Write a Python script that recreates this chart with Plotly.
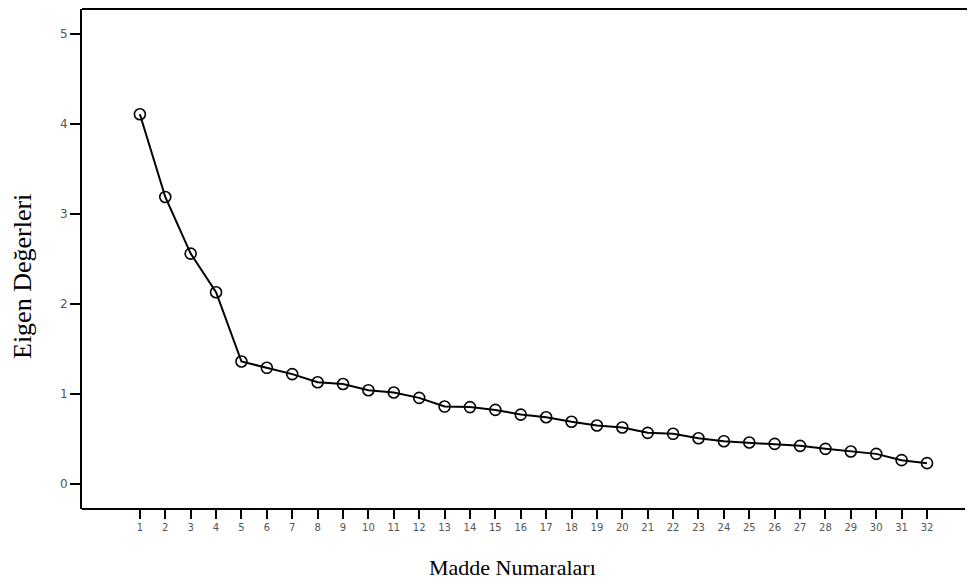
import plotly.graph_objects as go

items = list(range(1, 33))
eigen_values = [4.11, 3.19, 2.56, 2.13, 1.36, 1.29, 1.22, 1.13, 1.11, 1.04,
                1.015, 0.956, 0.859, 0.853, 0.822, 0.77, 0.74, 0.69, 0.648, 0.626,
                0.567, 0.556, 0.507, 0.474, 0.459, 0.444, 0.422, 0.389, 0.359, 0.333,
                0.263, 0.23]
y_ticks = [0, 1, 2, 3, 4, 5]
x_title = "Madde Numaraları"
y_title = "Eigen Değerleri"

fig = go.Figure()
fig.add_trace(go.Scatter(
    x=items, y=eigen_values, mode="lines+markers",
    line=dict(color="black", width=2),
    marker=dict(symbol="circle-open", size=11, color="black", line=dict(width=1.6)),
    showlegend=False, cliponaxis=False,
))

fig.update_layout(
    width=967, height=576,
    margin=dict(l=74, r=0, t=1, b=75),
    paper_bgcolor="white", plot_bgcolor="white",
    xaxis=dict(
        range=[-1.28, 33.89], tickvals=items, ticktext=[str(i) for i in items],
        showgrid=False, zeroline=False, showline=False,
        ticks="outside", ticklen=9, tickwidth=2, tickcolor="black",
        tickfont=dict(family="DejaVu Sans", size=10, color="#555"),
    ),
    yaxis=dict(
        range=[-0.28, 5.28], tickvals=y_ticks,
        showgrid=False, zeroline=False, showline=True, linecolor="black", linewidth=2,
        ticks="outside", ticklen=10, tickwidth=2, tickcolor="black",
        tickfont=dict(family="DejaVu Sans", size=12, color="#555"),
    ),
    shapes=[
        dict(type="line", xref="paper", yref="paper", x0=0, x1=0.9888, y0=0, y1=0,
             line=dict(color="black", width=2)),
        dict(type="line", xref="paper", yref="paper", x0=0, x1=1, y0=1, y1=1,
             line=dict(color="black", width=2)),
    ],
    annotations=[
        dict(text=x_title, xref="paper", yref="paper", x=(512 - 82) / 893, y=-(568 - 509) / 500,
             showarrow=False, xanchor="center", yanchor="middle",
             font=dict(family="Liberation Serif", size=22, color="black")),
        dict(text=y_title, xref="paper", yref="paper", x=-(82 - 22) / 893, y=(509 - 277) / 500,
             showarrow=False, xanchor="center", yanchor="middle", textangle=-90,
             font=dict(family="Liberation Serif", size=26, color="black")),
    ],
)

fig.write_html("out.html")
